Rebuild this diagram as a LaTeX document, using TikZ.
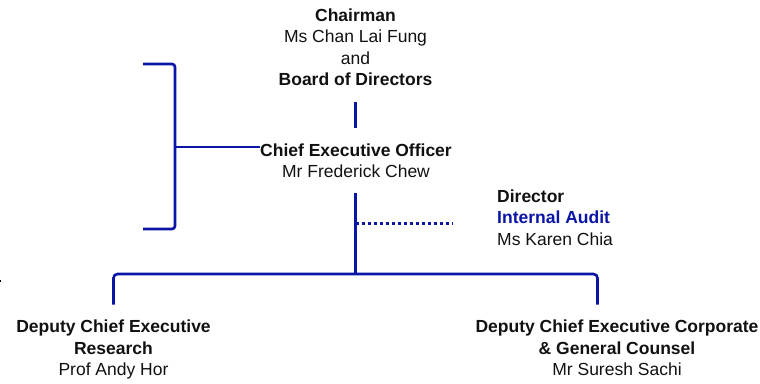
\documentclass[tikz,border=0pt]{standalone}
\usepackage{fontspec}
\setmainfont{Liberation Sans}
\usepackage{tikz}
\usetikzlibrary{positioning}
\definecolor{orgblue}{RGB}{10,20,165}
\definecolor{orgtext}{RGB}{17,17,17}
\tikzset{
  person/.style={align=center, inner sep=0pt, text=orgtext, font=\fontsize{17.5}{21.4}\selectfont},
  orgline/.style={draw=orgblue, line width=2.6pt},
  thinline/.style={draw=orgblue, line width=1.3pt},
  dotline/.style={draw=orgblue, line width=3pt, dash pattern=on 3pt off 3pt}
}
\begin{document}
\begin{tikzpicture}[x=1pt, y=-1pt]
	\useasboundingbox (0,0) rectangle (760,383);
	%%%% board and ceo
	\node[person, anchor=north] (chair) at (355.5,8.5) {\textbf{Chairman}\\Ms Chan Lai Fung\\and\\\textbf{Board of Directors}};
	\node[person, anchor=north] (ceo) at (356,143.3) {\textbf{Chief Executive Officer}\\Mr Frederick Chew};
	\node[person, anchor=north west, align=left] (audit) at (497,189.5) {\textbf{Director}\\\textcolor{orgblue}{\textbf{Internal Audit}}\\Ms Karen Chia};

	\draw[orgline, shorten <=15.7pt, shorten >=15.3pt] (chair.south) -- (chair.south |- ceo.north);

	%%%% bracket
	\coordinate (brtop) at (143,64);
	\coordinate (brbot) at (143,229);
	\coordinate (brmid) at (175,147);
	\draw[orgline, rounded corners=3pt] (brtop) -- ++(32,0) |- (brbot);
	\draw[thinline] (brmid) -- (brmid -| ceo.west);

	%%%% audit link
	\coordinate (tap) at (355.5,223);
	\draw[dotline, shorten >=44pt] (tap) -- (tap -| audit.west);

	%%%% deputies
	\node[person, anchor=north] (dcer) at (113.5,320) {\textbf{Deputy Chief Executive}\\\textbf{Research}\\Prof Andy Hor};
	\node[person, anchor=north] (dcec) at (617,320) {\textbf{Deputy Chief Executive Corporate}\\\textbf{\& General Counsel}\\Mr Suresh Sachi};

	\coordinate (bar) at (355.5,274);
	\coordinate[above=15.5pt of dcer.north] (legl);
	\path (legl) ++(484,0) coordinate (legr);
	\draw[orgline, shorten <=15.3pt] (ceo.south -| bar) -- (bar);
	\draw[orgline, rounded corners=4pt] (legl) |- (bar) -| (legr);

	\fill[black] (0,279.5) rectangle (1.3,282);
\end{tikzpicture}
\end{document}
